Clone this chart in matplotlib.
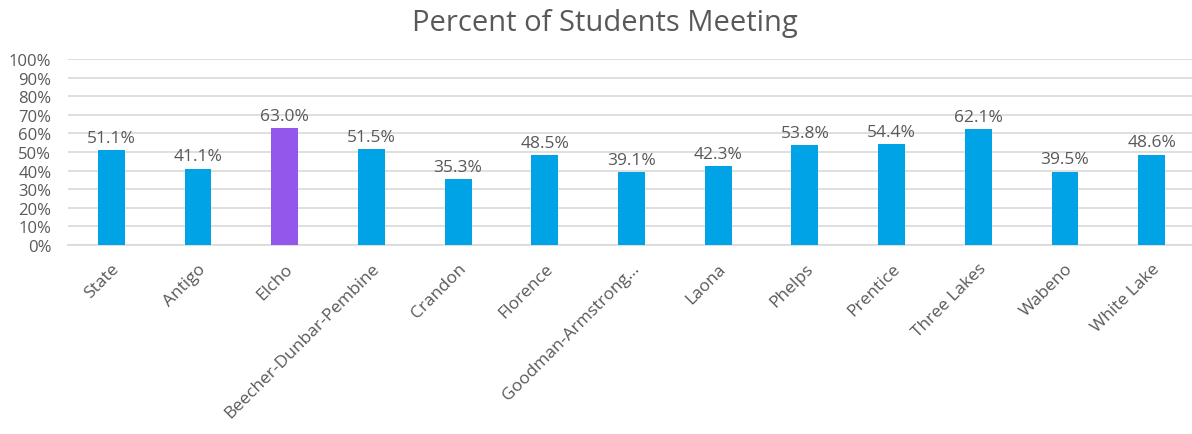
import matplotlib
matplotlib.use("Agg")
import matplotlib.pyplot as plt
from matplotlib.ticker import MultipleLocator, FuncFormatter

districts = ["State", "Antigo", "Elcho", "Beecher-Dunbar-Pembine", "Crandon",
             "Florence", "Goodman-Armstrong...", "Laona", "Phelps", "Prentice",
             "Three Lakes", "Wabeno", "White Lake"]
pct_meeting = [51.1, 41.1, 63.0, 51.5, 35.3, 48.5, 39.1, 42.3, 53.8, 54.4,
               62.1, 39.5, 48.6]
highlight = "Elcho"

BLUE = "#00A3E6"
PURPLE = "#9457EB"
TEXT = "#595959"
GRID = "#D9D9D9"

plt.rcParams["font.family"] = ["Open Sans", "DejaVu Sans"]

W, H = 1192, 435
fig = plt.figure(figsize=(W / 100, H / 100), dpi=100)
left, right, top, bottom = 68, 1195, 60, 246
ax = fig.add_axes([left / W, 1 - bottom / H, (right - left) / W, (bottom - top) / H])

x = range(len(districts))
colors = [PURPLE if d == highlight else BLUE for d in districts]
ax.bar(x, pct_meeting, width=0.31, color=colors, zorder=3)

for xi, v in zip(x, pct_meeting):
    ax.annotate(f"{v:.1f}%", (xi, v), xytext=(0, 3), textcoords="offset points",
                ha="center", va="bottom", fontsize=12.5, color=TEXT)

ax.set_xlim(-0.5, len(districts) - 0.5)
ax.set_ylim(0, 100)
ax.yaxis.set_major_locator(MultipleLocator(10))
ax.yaxis.set_major_formatter(FuncFormatter(lambda v, _: f"{v:.0f}%"))
ax.grid(axis="y", color=GRID, linewidth=1.2, zorder=0)
ax.set_axisbelow(True)

for s in ["top", "right", "left"]:
    ax.spines[s].set_visible(False)
ax.spines["bottom"].set_color(GRID)
ax.spines["bottom"].set_linewidth(1.2)

ax.tick_params(axis="y", length=0, labelsize=12, labelcolor=TEXT, pad=12)
ax.tick_params(axis="x", length=0, labelsize=12.5, labelcolor=TEXT, pad=11)
ax.set_xticks(list(x))
ax.set_xticklabels(districts, rotation=45, ha="right", rotation_mode="anchor")

fig.text(605 / W, 1 - 24 / H, "Percent of Students Meeting", ha="center", va="center",
         fontsize=21, color=TEXT)

fig.savefig("out.png", dpi=100, facecolor="white")
